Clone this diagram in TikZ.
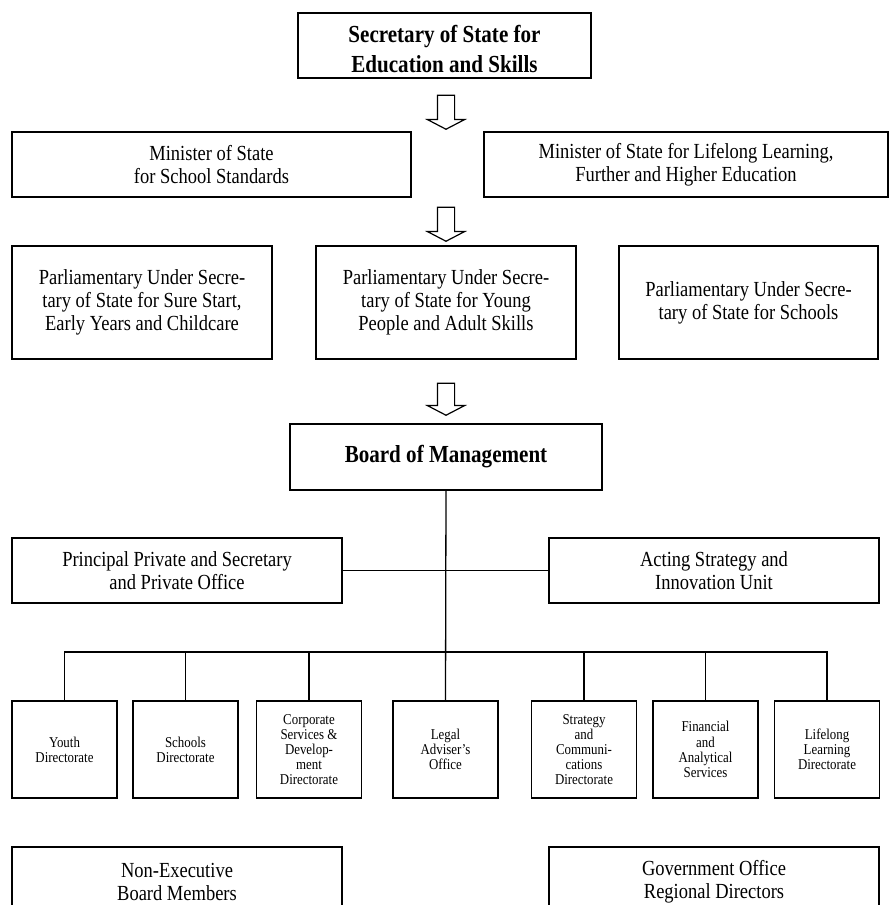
\documentclass[tikz,border=0pt]{standalone}
\usepackage{fontspec}
\setmainfont{Liberation Serif}[FakeStretch=0.86]
\usetikzlibrary{shapes.arrows, positioning}

\tikzset{
  box/.style={draw, line width=1.4pt, align=center, inner sep=0pt,
    font=\fontsize{21.5}{23}\selectfont},
  headbox/.style={box, font=\fontsize{24.5}{30}\selectfont\bfseries},
  dirbox/.style={box, minimum width=105pt, minimum height=97pt,
    font=\fontsize{15}{15.2}\selectfont},
  downarrow/.style={single arrow, draw, line width=1.2pt, rotate=-90,
    minimum height=34pt, minimum width=36pt, inner xsep=0pt, inner ysep=8pt,
    single arrow head extend=10pt, single arrow tip angle=125},
  link/.style={line width=1.3pt}
}

\begin{document}
\begin{tikzpicture}[x=1pt, y=-1pt]
  \useasboundingbox (0,0) rectangle (890,905);

  % ministers
  \node[headbox, minimum width=293pt, minimum height=65pt] (sec) at (444.5,45.5)
    {\raisebox{-6pt}[\height][\depth]{\begin{tabular}{@{}c@{}}Secretary of State for\\Education and Skills\end{tabular}}};
  \node[downarrow] (arr1) at (446,110) {};
  \node[box, minimum width=399pt, minimum height=65pt] (minL) at (211.5,164.5)
    {Minister of State\\for School Standards};
  \node[box, minimum width=404pt, minimum height=65pt] (minR) at (686,164.5)
    {Minister of State for Lifelong Learning,\\Further and Higher Education};
  \node[downarrow] (arr2) at (446,222) {};
  \node[box, minimum width=260pt, minimum height=113pt] (pussL) at (142,302.5)
    {Parliamentary Under Secre-\\tary of State for Sure Start,\\Early Years and Childcare};
  \node[box, minimum width=260pt, minimum height=113pt] (pussM) at (446,302.5)
    {Parliamentary Under Secre-\\tary of State for Young\\People and Adult Skills};
  \node[box, minimum width=259pt, minimum height=113pt] (pussR) at (748.5,302.5)
    {Parliamentary Under Secre-\\tary of State for Schools};
  \node[downarrow, minimum height=32pt] (arr3) at (446,397) {};

  % board and offices
  \node[headbox, minimum width=312pt, minimum height=66pt] (board) at (446,457)
    {Board of Management};
  \node[box, minimum width=330pt, minimum height=65pt] (prin) at (177,570.5)
    {Principal Private and Secretary\\and Private Office};
  \node[box, minimum width=330pt, minimum height=65pt] (act) at (714,570.5)
    {Acting Strategy and\\Innovation Unit};

  % directorates
  \node[dirbox] (youth) at (64.5,749.5) {Youth\\Directorate};
  \node[dirbox] (schools) at (185.5,749.5) {Schools\\Directorate};
  \node[dirbox] (corp) at (309,749.5) {Corporate\\Services \&\\Develop-\\ment\\Directorate};
  \node[dirbox] (legal) at (445.5,749.5) {Legal\\Adviser's\\Office};
  \node[dirbox] (strat) at (584,749.5) {Strategy\\and\\Communi-\\cations\\Directorate};
  \node[dirbox] (fin) at (705.5,749.5) {Financial\\and\\Analytical\\Services};
  \node[dirbox] (lll) at (827,749.5) {Lifelong\\Learning\\Directorate};

  \node[box, minimum width=330pt, minimum height=70pt] (nonexec) at (177,882)
    {Non-Executive\\Board Members};
  \node[box, minimum width=330pt, minimum height=70pt] (gord) at (714,882)
    {Government Office\\Regional Directors};

  % connectors
  \coordinate (bar) at (446,652);
  \draw[link] (board.south) -- (legal.north);
  \draw[link] (prin.east) -- (act.west);
  \draw[link] (youth.north) |- (bar) -| (lll.north);
  \foreach \d in {schools, corp, strat, fin}
    \draw[link] (\d.north) -- (\d.north |- bar);
\end{tikzpicture}
\end{document}
